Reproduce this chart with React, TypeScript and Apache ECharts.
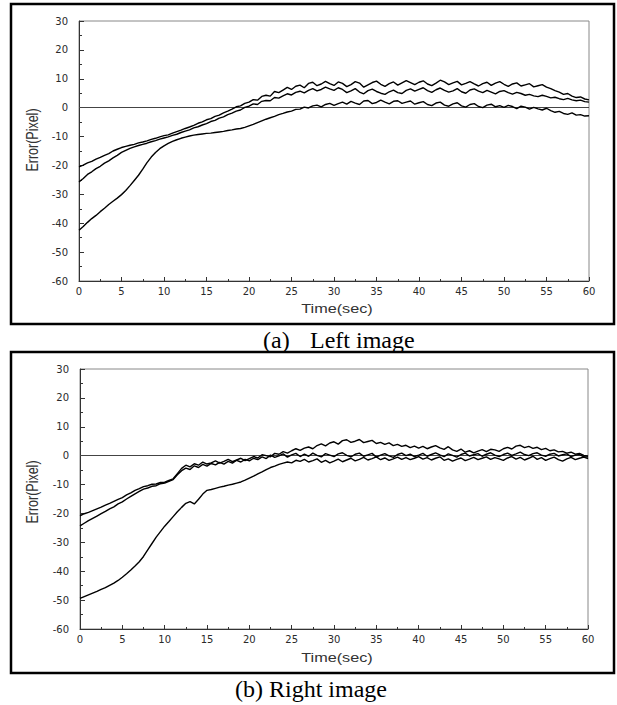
import React, { useEffect, useRef } from "react";
import * as echarts from "echarts";

// sample spacing of the recorded error traces (seconds)
const TIME_STEP = 0.5;

// (a) Left image — three trials, error in pixels, one value every 0.5 s from 0 to 60 s
const leftTrial1 = [
  -20.5, -19.9, -19.1, -18.6, -17.8, -17.2, -16.5, -15.9, -15.0, -14.4, -13.8, -13.4, -13.0, -12.7, -12.2, -11.9, -11.5, -11.0, -10.6, -10.1,
  -9.7, -9.4, -8.8, -8.3, -7.8, -7.2, -6.7, -6.1, -5.4, -4.9, -4.2, -3.8, -3.0, -2.6, -1.8, -1.2, -0.5, 0.3, 0.6, 1.5,
  1.9, 2.8, 2.6, 3.9, 4.3, 4.0, 5.6, 5.2, 6.1, 7.0, 6.3, 7.4, 7.8, 6.9, 8.4, 8.8, 7.6, 8.2, 9.1, 8.3,
  7.7, 8.9, 8.4, 7.3, 8.0, 9.0, 8.5, 7.1, 7.9, 8.7, 9.2, 8.1, 7.4, 8.3, 8.9, 7.8, 8.6, 9.4, 8.7, 8.0,
  8.8, 9.3, 8.2, 7.6, 8.5, 9.5, 8.9, 8.0, 8.6, 9.1, 7.9, 8.4, 9.0, 8.2, 7.5, 8.3, 8.8, 7.7, 8.5, 9.0,
  8.1, 7.4, 8.2, 8.6, 7.5, 7.9, 8.3, 7.2, 7.6, 8.0, 7.1, 6.6, 5.9, 5.4, 4.6, 4.9, 4.0, 3.5, 3.7, 3.0,
  2.7,
];
const leftTrial2 = [
  -25.7, -24.5, -23.1, -22.2, -21.1, -20.3, -19.2, -18.4, -17.4, -16.5, -15.5, -14.8, -14.1, -13.6, -13.1, -12.7, -12.3, -11.8, -11.4, -10.9,
  -10.5, -10.1, -9.6, -9.2, -8.6, -8.1, -7.7, -7.0, -6.6, -6.0, -5.5, -4.8, -4.4, -3.6, -3.2, -2.4, -1.9, -1.2, -0.8, 0.1,
  0.5, 1.3, 1.1, 2.2, 2.5, 2.4, 3.5, 3.3, 4.1, 4.8, 4.4, 5.3, 5.7, 5.1, 6.0, 6.6, 5.8, 6.3, 7.1, 6.5,
  6.0, 6.9, 6.3, 5.2, 5.8, 6.6, 5.4, 4.8, 5.9, 6.4, 5.6, 5.0, 4.6, 5.5, 6.1, 5.2, 4.9, 6.0, 6.5, 5.7,
  6.3, 6.9, 5.9, 5.3, 6.2, 6.8, 6.0, 5.4, 5.8, 6.6, 5.5, 5.0, 6.1, 6.5, 5.7, 5.2, 6.0, 5.4, 4.8, 5.6,
  5.9, 5.2, 4.7, 5.3, 4.9, 4.3, 4.6, 4.1, 3.8, 4.3, 3.9, 3.4, 3.6, 3.1, 2.8, 3.2, 2.7, 2.4, 2.6, 2.1,
  1.9,
];
const leftTrial3 = [
  -42.4, -41.1, -39.7, -38.4, -37.3, -36.0, -34.8, -33.5, -32.4, -31.3, -30.1, -28.7, -27.0, -25.2, -23.4, -21.3, -19.0, -17.1, -15.5, -14.2,
  -13.2, -12.4, -11.7, -11.1, -10.6, -10.2, -9.8, -9.5, -9.3, -9.1, -8.9, -8.8, -8.6, -8.4, -8.2, -7.9, -7.7, -7.4, -7.2, -6.8,
  -6.3, -5.8, -5.2, -4.6, -4.0, -3.5, -3.0, -2.4, -2.0, -1.5, -1.2, -0.6, -0.5, 0.2, -0.1, 0.6, 0.9, 0.3, 1.1, 1.5,
  0.8, 1.4, 1.9, 1.2, 2.2, 1.6, 1.1, 2.3, 2.5, 1.4, 1.8, 2.6, 1.9, 1.3, 2.2, 2.4, 1.5, 1.9, 2.3, 1.2,
  1.7, 2.1, 1.1, 0.7, 1.6, 1.9, 0.9, 0.5, 1.3, 1.7, 0.6, 0.2, 1.1, 1.4, 0.4, 0.0, 0.9, 1.2, 0.3, 0.7,
  0.1, 0.8, 0.4, -0.3, 0.5, 0.2, -0.5, 0.1, -0.4, -0.8, -0.2, -1.0, -1.6, -1.3, -2.0, -2.3, -1.8, -2.6, -2.4, -2.9,
  -2.8,
];

// (b) Right image — three trials
const rightTrial1 = [
  -20.8, -20.1, -19.6, -19.0, -18.4, -17.8, -17.1, -16.5, -15.8, -15.1, -14.5, -13.6, -12.9, -12.0, -11.4, -10.7, -10.4, -9.9, -9.8, -9.3,
  -9.2, -8.6, -8.0, -6.2, -4.4, -3.3, -3.9, -2.8, -3.3, -2.2, -2.9, -2.5, -1.8, -2.6, -2.0, -1.3, -2.1, -1.5, -0.9, -1.7,
  -1.0, -0.3, -0.8, 0.3, 0.0, -0.4, 0.8, 0.5, 1.4, 0.9, 1.7, 2.4, 1.8, 2.6, 3.0, 2.4, 3.5, 4.1, 3.4, 4.4,
  4.8, 4.0, 5.2, 5.5, 4.6, 5.0, 5.6, 4.5, 4.9, 5.3, 4.2, 4.6, 3.9, 4.4, 3.5, 3.9, 3.2, 3.6, 2.8, 3.3,
  2.6, 3.2, 2.4, 3.0, 3.5, 2.7, 2.2, 3.1, 2.0, 1.5, 2.3, 1.2, 1.7, 1.0, 1.6, 2.1, 1.4, 2.2, 2.0, 1.5,
  2.4, 2.9, 2.3, 3.3, 3.6, 2.8, 3.2, 2.5, 2.9, 2.1, 2.5, 1.7, 2.0, 1.3, 1.5, 0.9, 1.2, 0.5, 0.8, 0.1,
  -0.2,
];
const rightTrial2 = [
  -24.3, -23.4, -22.5, -21.7, -20.9, -20.1, -19.3, -18.4, -17.7, -16.7, -16.0, -15.0, -14.1, -13.2, -12.4, -11.6, -11.2, -10.6, -10.4, -9.7,
  -9.5, -8.9, -8.3, -6.6, -5.2, -4.3, -4.8, -3.5, -4.1, -3.0, -3.6, -2.7, -3.2, -2.3, -2.9, -2.0, -2.6, -1.6, -2.2, -1.3,
  -1.8, -0.9, -1.4, -0.4, -1.0, 0.2, -0.6, -0.1, 0.6, -0.5, 0.3, 0.8, -0.3, 0.5, -0.2, 0.9, 0.1, -0.4, 0.7, 0.2,
  -0.3, 0.6, 1.0, 0.1, -0.4, 0.5, 0.9, -0.2, 0.3, 0.8, -0.5, 0.2, 0.7, -0.1, -0.6, 0.4, 0.9, 0.0, 0.5, -0.3,
  0.2, 0.8, -0.2, 0.4, 1.0, 0.3, -0.3, 0.6, 0.1, -0.5, 0.4, 0.9, -0.1, 0.3, 0.7, -0.2, 0.5, 1.0, 0.2, -0.3,
  0.4, 0.9, 0.1, 0.6, 1.2, 0.4, 0.0, 0.7, 1.0, 0.2, -0.2, 0.5, 0.8, -0.1, 0.3, 0.6, -0.3, 0.2, 0.4, -0.4,
  -0.5,
];
const rightTrial3 = [
  -49.4, -48.8, -48.2, -47.6, -47.0, -46.3, -45.7, -44.9, -44.1, -43.2, -42.1, -40.9, -39.6, -38.2, -36.7, -34.9, -32.6, -30.4, -28.2, -26.3,
  -24.4, -22.8, -21.1, -19.4, -17.9, -16.5, -15.9, -16.7, -15.1, -13.3, -12.0, -11.7, -11.3, -10.9, -10.6, -10.2, -9.9, -9.5, -9.1, -8.5,
  -7.8, -7.1, -6.3, -5.6, -4.8, -4.1, -3.6, -3.0, -2.6, -2.2, -2.5, -1.6, -2.0, -1.3, -2.2, -1.7, -1.1, -2.3, -1.6, -2.5,
  -1.9, -1.2, -2.1, -1.5, -0.9, -1.8, -1.3, -0.6, -1.5, -1.0, -0.4, -1.4, -0.8, -1.6, -1.1, -0.5, -1.3, -0.7, -1.4, -0.9,
  -0.3, -1.2, -0.7, -1.5, -0.9, -0.4, -1.6, -1.1, -1.9, -1.3, -0.8, -1.7, -1.2, -0.6, -1.4, -0.9, -0.4, -1.3, -0.7, -1.1,
  -1.6, -0.8, -0.3, -1.2, -0.6, -1.5, -0.9, -0.2, -1.3, -0.7, -1.6, -1.0, -0.5, -1.4, -1.9, -1.1, -0.6, -1.4, -0.9, -0.5,
  -1.0,
];

const Y_MIN = -60;
const Y_MAX = 30;
const Y_STEP = 10;
const X_MIN = 0;
const X_MAX = 60;
const X_STEP = 5;

const X_TITLE = "Time(sec)";
const Y_TITLE = "Error(Pixel)";
const CAPTION_A_TAG = "(a)";
const CAPTION_A_TEXT = "Left image";
const CAPTION_B = "(b) Right image";

const toPairs = (vals: number[]) => vals.map((v, i) => [i * TIME_STEP, v]);

export default function App() {
  const ref = useRef<HTMLDivElement>(null);

  useEffect(() => {
    if (!ref.current) return;
    const chart = echarts.init(ref.current, null, { renderer: "svg" });

    const tickFont = { fontFamily: "DejaVu Sans", fontSize: 10, color: "#2a2a2a" };
    const axisColor = "#333";

    const makeX = (gridIndex: number) => ({
      type: "value",
      gridIndex,
      min: X_MIN,
      max: X_MAX,
      interval: X_STEP,
      axisLine: { show: true, onZero: false, lineStyle: { color: axisColor, width: 1 } },
      axisTick: { show: true, inside: true, length: 4, lineStyle: { color: axisColor } },
      minorTick: { show: true, splitNumber: 2, length: 2, lineStyle: { color: axisColor } },
      splitLine: { show: false },
      axisLabel: { ...tickFont, margin: 5 },
    });
    const makeY = (gridIndex: number) => ({
      type: "value",
      gridIndex,
      min: Y_MIN,
      max: Y_MAX,
      interval: Y_STEP,
      axisLine: { show: true, onZero: false, lineStyle: { color: axisColor, width: 1 } },
      axisTick: { show: true, inside: true, length: 5, lineStyle: { color: axisColor } },
      minorTick: { show: true, splitNumber: 2, length: 3, lineStyle: { color: axisColor } },
      splitLine: { show: false },
      axisLabel: { ...tickFont, margin: 11 },
    });

    const lineSeries = (data: number[], idx: number, withZero: boolean) => ({
      type: "line",
      xAxisIndex: idx,
      yAxisIndex: idx,
      data: toPairs(data),
      showSymbol: false,
      symbol: "none",
      lineStyle: { color: "#000", width: 1.4 },
      silent: true,
      z: 3,
      markLine: withZero
        ? {
            silent: true,
            symbol: "none",
            label: { show: false },
            lineStyle: { color: "#444", width: 1, type: "solid" },
            data: [{ yAxis: 0 }],
            z: 1,
          }
        : undefined,
    });

    const sans = '"Liberation Sans", Arial, sans-serif';
    const serif = '"Liberation Serif", "Times New Roman", serif';

    chart.setOption({
      animation: false,
      backgroundColor: "#fff",
      grid: [
        { left: 79, top: 21, width: 510, height: 260, show: true, borderColor: "#888", borderWidth: 1, backgroundColor: "transparent" },
        { left: 80, top: 369, width: 508, height: 260, show: true, borderColor: "#888", borderWidth: 1, backgroundColor: "transparent" },
      ],
      xAxis: [makeX(0), makeX(1)],
      yAxis: [makeY(0), makeY(1)],
      series: [
        lineSeries(leftTrial3, 0, true),
        lineSeries(leftTrial2, 0, false),
        lineSeries(leftTrial1, 0, false),
        lineSeries(rightTrial3, 1, true),
        lineSeries(rightTrial2, 1, false),
        lineSeries(rightTrial1, 1, false),
      ],
      graphic: [
        { type: "rect", silent: true, shape: { x: 11, y: 4, width: 603, height: 320 }, style: { fill: "none", stroke: "#000", lineWidth: 2.5 } },
        { type: "rect", silent: true, shape: { x: 11, y: 352, width: 603, height: 321 }, style: { fill: "none", stroke: "#000", lineWidth: 2.5 } },
        { type: "text", silent: true, x: 337, y: 309, scaleX: 1.3, style: { text: X_TITLE, font: `12.5px ${sans}`, fill: "#333", textAlign: "center", textVerticalAlign: "middle" } },
        { type: "text", silent: true, x: 337, y: 658, scaleX: 1.3, style: { text: X_TITLE, font: `12.5px ${sans}`, fill: "#333", textAlign: "center", textVerticalAlign: "middle" } },
        { type: "text", silent: true, x: 32, y: 140, rotation: Math.PI / 2, scaleY: 1.25, style: { text: Y_TITLE, font: `12.5px ${sans}`, fill: "#333", textAlign: "center", textVerticalAlign: "middle" } },
        { type: "text", silent: true, x: 32, y: 492, rotation: Math.PI / 2, scaleY: 1.25, style: { text: Y_TITLE, font: `12.5px ${sans}`, fill: "#333", textAlign: "center", textVerticalAlign: "middle" } },
        { type: "text", silent: true, x: 263, y: 340, style: { text: CAPTION_A_TAG, font: `24px ${serif}`, fill: "#000", textAlign: "left", textVerticalAlign: "middle" } },
        { type: "text", silent: true, x: 310, y: 340, style: { text: CAPTION_A_TEXT, font: `24px ${serif}`, fill: "#000", textAlign: "left", textVerticalAlign: "middle" } },
        { type: "text", silent: true, x: 311, y: 689, style: { text: CAPTION_B, font: `24px ${serif}`, fill: "#000", textAlign: "center", textVerticalAlign: "middle" } },
      ],
    });

    return () => {
      chart.dispose();
    };
  }, []);

  return (
    <div
      ref={ref}
      style={{ position: "absolute", left: 0, top: 0, width: 617, height: 705, background: "#fff" }}
    />
  );
}
